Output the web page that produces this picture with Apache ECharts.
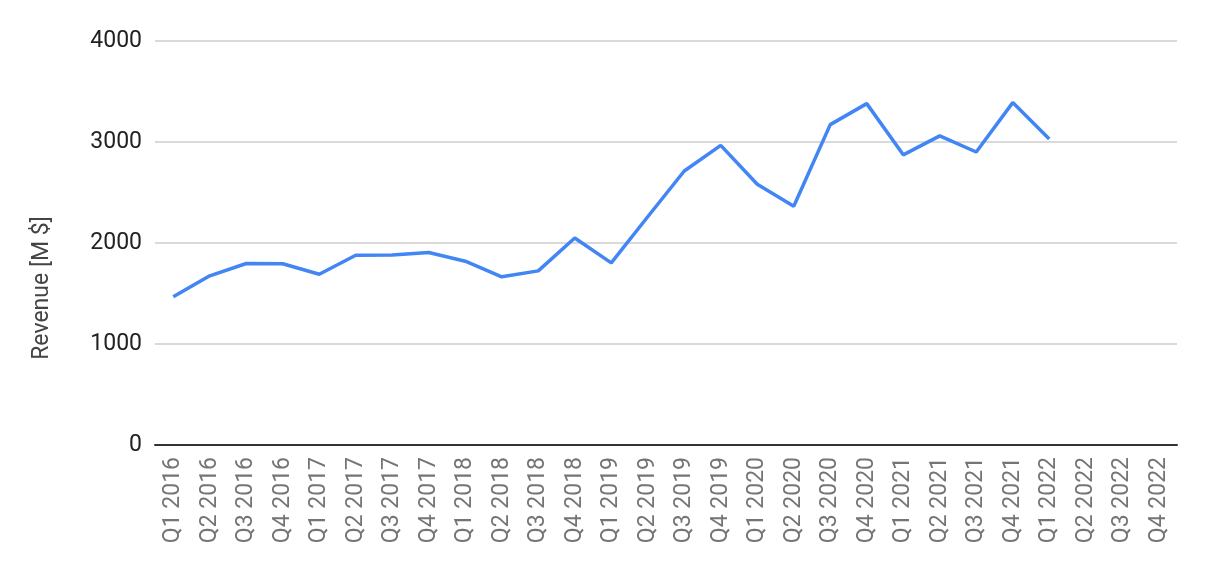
<!DOCTYPE html>
<html>
<head>
<meta charset="utf-8">
<script src="https://cdn.jsdelivr.net/npm/echarts@6/dist/echarts.min.js"></script>
<style>html,body{margin:0;padding:0;background:#fff;}#c{width:1206px;height:576px;}</style>
</head>
<body>
<div id="c"></div>
<script>
const categories = ["Q1 2016","Q2 2016","Q3 2016","Q4 2016","Q1 2017","Q2 2017","Q3 2017","Q4 2017","Q1 2018","Q2 2018","Q3 2018","Q4 2018","Q1 2019","Q2 2019","Q3 2019","Q4 2019","Q1 2020","Q2 2020","Q3 2020","Q4 2020","Q1 2021","Q2 2021","Q3 2021","Q4 2021","Q1 2022","Q2 2022","Q3 2022","Q4 2022"];
const revenue = [1467,1675,1797,1795,1691,1879,1882,1906,1820,1665,1724,2050,1803,2260,2713,2967,2582,2364,3172,3380,2873,3061,2901,3390,3029,null,null,null];
const yTicks = {min:0, max:4000, interval:1000};
const yName = "Revenue [M $]";

const chart = echarts.init(document.getElementById('c'));
chart.setOption({
  animation:false,
  textStyle:{fontFamily:'Roboto'},
  grid:{left:155, right:29, top:41, bottom:131},
  xAxis:{
    type:'category', data:categories, boundaryGap:true,
    axisLine:{lineStyle:{color:'#333', width:2}},
    axisTick:{show:false},
    axisLabel:{rotate:90, margin:12, color:'#757575', fontSize:23, fontFamily:'Roboto', interval:0}
  },
  yAxis:{
    type:'value', min:yTicks.min, max:yTicks.max, interval:yTicks.interval,
    name:yName, nameLocation:'middle', nameGap:101,
    nameTextStyle:{color:'#444', fontSize:23, fontFamily:'Roboto', padding:[0,90,0,0]},
    axisLine:{show:false}, axisTick:{show:false},
    axisLabel:{margin:13, color:'#222', fontSize:23, fontFamily:'Roboto', formatter:v=>String(v)},
    splitLine:{lineStyle:{color:'#ccc', width:1.5}}
  },
  series:[{
    type:'line', data:revenue, showSymbol:false, symbol:'none',
    lineStyle:{color:'#4285F4', width:3.5}, itemStyle:{color:'#4285F4'},
    connectNulls:false
  }]
});
</script>
</body>
</html>
